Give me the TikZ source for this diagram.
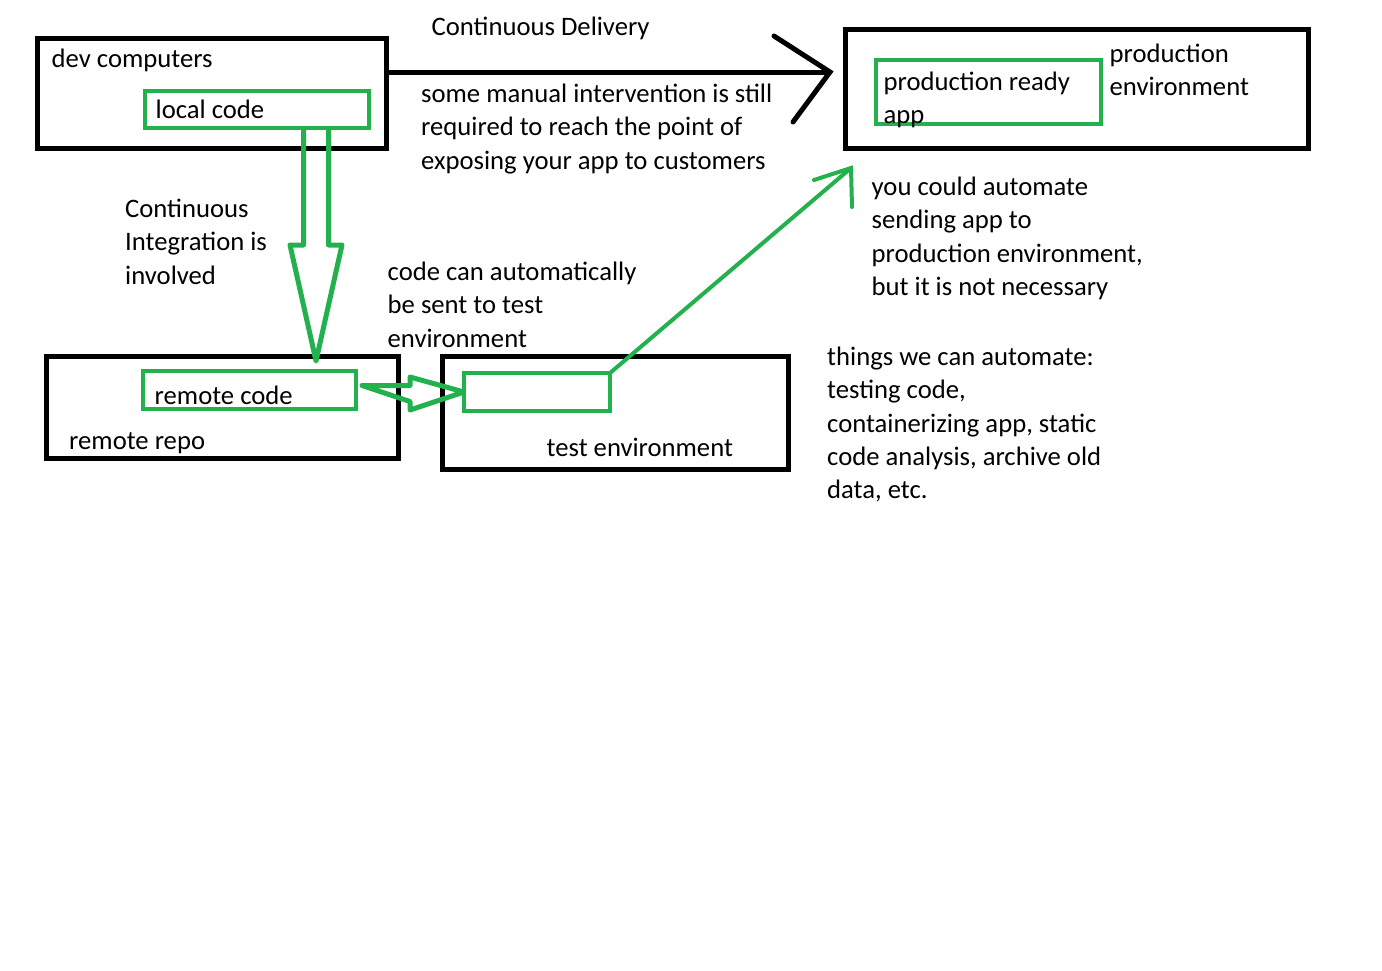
\documentclass[tikz,border=0pt]{standalone}
\usepackage{fontspec}
\setmainfont{Carlito}
\definecolor{paintgreen}{RGB}{34,177,76}
\newcommand{\textlines}[1]{\begin{tabular}[t]{@{}l@{}}#1\end{tabular}}

\begin{document}
\begin{tikzpicture}[x=1pt,y=-1pt]
\tikzstyle{blackbox}=[draw=black,line width=5pt,inner sep=0pt,outer sep=0pt]
\tikzstyle{greenbox}=[draw=paintgreen,line width=4pt,inner sep=0pt,outer sep=0pt]
\tikzstyle{note}=[anchor=base west,inner sep=0pt,font=\fontsize{26.67}{33.3}\selectfont]
\tikzstyle{blackline}=[draw=black,line width=5pt]
\tikzstyle{greenline}=[draw=paintgreen,line width=4pt]
\tikzstyle{hollow}=[draw=paintgreen,line width=5pt,line join=round]
\useasboundingbox (0,0) rectangle (1382,970);
\foreach \name/\point/\w/\h in {
	dev/{211.5,93.25}/349/109.5,
	repo/{222.25,407.25}/351.5/102.5,
	test/{615,412.5}/346/113,
	prod/{1076.5,88.5}/463/119}
	\node[blackbox,minimum width=\w,minimum height=\h] (\name) at (\point) {};
\foreach \name/\point/\w/\h in {
	lc/{257,109.5}/224/37,
	rc/{249.5,390}/213/38,
	tb/{537,392}/146/38,
	pra/{988.5,92}/225/64}
	\node[greenbox,minimum width=\w,minimum height=\h] (\name) at (\point) {};
% texts
\node[note] (devtxt) at (51.5,67.5) {dev computers};
\node[note] (lctxt) at (155.5,118) {local code};
\node[note] (cdtxt) at (431.5,35.5) {Continuous Delivery};
\node[note] (mantxt) at (421,102.5) {\textlines{some manual intervention is still\\required to reach the point of\\exposing your app to customers}};
\node[note] (pratxt) at (883.5,90) {\textlines{production ready\\app}};
\node[note] (prodtxt) at (1109.5,62.5) {\textlines{production\\environment}};
\node[note] (citxt) at (125,217.5) {\textlines{Continuous\\Integration is\\involved}};
\node[note] (autotxt) at (387.5,280.5) {\textlines{code can automatically\\be sent to test\\environment}};
\node[note] (rctxt) at (154.5,404) {remote code};
\node[note] (repotxt) at (69,449) {remote repo};
\node[note] (testtxt) at (546.5,456.5) {test environment};
\node[note] (couldtxt) at (871.5,195.5) {\textlines{you could automate\\sending app to\\production environment,\\but it is not necessary}};
\node[note] (thingstxt) at (827,365.5) {\textlines{things we can automate:\\testing code,\\containerizing app, static\\code analysis, archive old\\data, etc.}};
% connectors
\coordinate (cdtip) at (830,72);
\draw[blackline] (dev.east |- cdtip) -- (cdtip);
\draw[blackline,line cap=round] (774,36) -- (cdtip) -- (793,122);
\coordinate (padtip) at (851,168);
\draw[greenline] (tb.north east) -- (padtip);
\draw[greenline,line cap=round] (814,180) -- (padtip) -- (852,207);
\draw[hollow] (303.5,128) -- (303.5,245) -- (290,245) -- (316,361) -- (342,245) -- (328.5,245) -- (328.5,128);
\draw[hollow] (362,385.5) -- (410,385.5) -- (410,377) -- (tb.west) -- (410,410) -- (410,401.5) -- cycle;
\end{tikzpicture}
\end{document}
